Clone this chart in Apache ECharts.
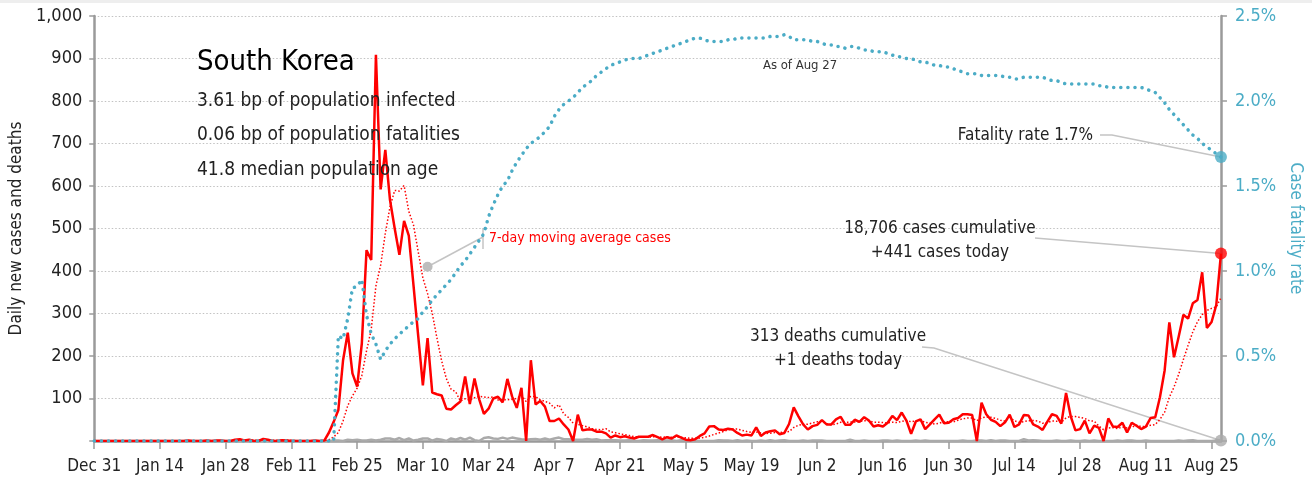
<!DOCTYPE html>
<html>
<head>
<meta charset="utf-8">
<script src="https://cdn.jsdelivr.net/npm/echarts@6/dist/echarts.min.js"></script>
<style>
  html, body { margin: 0; padding: 0; background: #fff; }
  #main { width: 1312px; height: 482px; }
</style>
</head>
<body>
<div id="main"></div>
<script>
  var FONT = "'Liberation Sans Narrow', 'DejaVu Sans Condensed', 'Roboto', sans-serif";

  // one category per day, Dec 31 2019 .. Aug 27 2020
  var monthNames = ['Jan', 'Feb', 'Mar', 'Apr', 'May', 'Jun', 'Jul', 'Aug', 'Sep', 'Oct', 'Nov', 'Dec'];
  var categories = [];
  for (var t = Date.UTC(2019, 11, 31); t <= Date.UTC(2020, 7, 27); t += 86400000) {
    var dt = new Date(t);
    categories.push(monthNames[dt.getUTCMonth()] + ' ' + dt.getUTCDate());
  }

  var tickLabels = ['Dec 31', 'Jan 14', 'Jan 28', 'Feb 11', 'Feb 25', 'Mar 10', 'Mar 24', 'Apr 7', 'Apr 21',
    'May 5', 'May 19', 'Jun 2', 'Jun 16', 'Jun 30', 'Jul 14', 'Jul 28', 'Aug 11', 'Aug 25'];

  // daily new cases
  var cases = [
    0, 0, 0, 0, 0, 0, 0, 0, 0, 0,
    0, 0, 0, 0, 0, 0, 0, 0, 0, 0,
    1, 0, 0, 0, 1, 0, 1, 1, 0, 0,
    3, 4, 1, 3, 0, 0, 5, 3, 0, 0,
    2, 1, 0, 0, 0, 0, 0, 1, 0, 1,
    20, 45, 73, 190, 255, 159, 128, 230, 449, 426,
    909, 592, 685, 567, 500, 438, 518, 483, 367, 248,
    131, 242, 114, 110, 107, 76, 74, 84, 93, 152,
    87, 147, 98, 64, 76, 100, 104, 91, 146, 105,
    78, 125, 0, 190, 86, 94, 81, 47, 47, 53,
    39, 27, 0, 62, 25, 27, 27, 22, 22, 18,
    8, 13, 9, 11, 8, 6, 10, 10, 10, 14,
    9, 4, 9, 6, 13, 8, 3, 2, 4, 12,
    18, 34, 35, 27, 26, 29, 27, 19, 13, 15,
    13, 32, 12, 20, 23, 25, 16, 19, 40, 79,
    58, 39, 27, 35, 38, 49, 39, 39, 51, 57,
    38, 38, 50, 45, 56, 48, 34, 37, 34, 43,
    59, 49, 67, 48, 17, 46, 51, 28, 39, 51,
    62, 42, 43, 51, 54, 63, 63, 61, 0, 90,
    63, 50, 45, 35, 44, 62, 33, 39, 61, 60,
    39, 34, 26, 45, 63, 59, 41, 113, 58, 25,
    28, 48, 18, 36, 31, 0, 53, 34, 33, 43,
    20, 43, 36, 28, 34, 54, 56, 103, 166, 279,
    197, 246, 297, 288, 324, 332, 397, 266, 280, 320,
    441
  ];

  // 7-day moving average of cases
  var casesAvg = [
    0, 0, 0, 0, 0, 0, 0, 0, 0, 0,
    0, 0, 0, 0, 0, 0, 0, 0, 0, 0,
    0.1, 0.1, 0.1, 0.1, 0.3, 0.3, 0.4, 0.4, 0.4, 0.4,
    0.9, 1.3, 1.4, 1.7, 1.6, 1.6, 2.3, 2.3, 1.7, 1.6,
    1.4, 1.6, 1.6, 0.9, 0.4, 0.4, 0.4, 0.3, 0.1, 0.3,
    3.1, 9.6, 20, 47.1, 83.4, 106.1, 124.3, 154.3, 212, 262.4,
    365.1, 413.3, 488.4, 551.1, 589.7, 588.1, 601.3, 540.4, 508.3, 445.9,
    383.6, 346.7, 300.4, 242.1, 188.4, 146.9, 122, 115.3, 94, 99.4,
    96.1, 101.9, 105, 103.6, 102.4, 103.4, 96.6, 97.1, 97, 98,
    100, 107, 92.7, 105, 104.3, 96.9, 93.4, 89, 77.9, 85.4,
    63.9, 55.4, 42, 39.3, 36.1, 33.3, 29.6, 27.1, 26.4, 29,
    21.3, 19.6, 17, 14.7, 12.7, 10.4, 9.3, 9.6, 9.1, 9.9,
    9.6, 9, 9.4, 8.9, 9.3, 9, 7.4, 6.4, 6.4, 6.9,
    8.6, 11.6, 15.4, 18.9, 22.3, 25.9, 28, 28.1, 25.1, 22.3,
    20.3, 21.1, 18.7, 17.7, 18.3, 20, 20.1, 21, 22.1, 31.7,
    37.1, 39.4, 39.7, 42.4, 45.1, 46.4, 40.7, 38, 39.7, 44,
    44.4, 44.4, 44.6, 45.4, 47.9, 47.4, 44.1, 44, 43.4, 42.4,
    44.4, 43.4, 46.1, 48.1, 45.3, 47, 48.1, 43.7, 42.3, 40,
    42, 45.6, 45.1, 45.1, 48.9, 52.3, 54, 53.9, 47.9, 54.6,
    56.3, 55.7, 53.1, 49.1, 46.7, 55.6, 47.4, 44, 45.6, 47.7,
    48.3, 46.9, 41.7, 43.4, 46.9, 46.6, 43.9, 54.4, 57.9, 57.7,
    55.3, 53.1, 47.3, 46.6, 34.9, 26.6, 30.6, 31.4, 29.3, 32.9,
    30.6, 32.3, 37.4, 33.9, 33.9, 36.9, 38.7, 50.6, 68.1, 102.9,
    127, 157.3, 192, 225.1, 256.7, 280.4, 297.3, 307.1, 312, 315.3,
    337.1
  ];

  // daily new deaths
  var deaths = [
    0, 0, 0, 0, 0, 0, 0, 0, 0, 0,
    0, 0, 0, 0, 0, 0, 0, 0, 0, 0,
    0, 0, 0, 0, 0, 0, 0, 0, 0, 0,
    0, 0, 0, 0, 0, 0, 0, 0, 0, 0,
    0, 0, 0, 0, 0, 0, 0, 0, 0, 0,
    0, 1, 1, 0, 3, 2, 3, 1, 1, 3,
    1, 3, 6, 6, 3, 7, 2, 6, 1, 3,
    6, 6, 1, 5, 3, 0, 6, 3, 7, 3,
    8, 2, 0, 7, 9, 6, 5, 8, 5, 8,
    6, 4, 3, 4, 5, 3, 6, 3, 6, 8,
    4, 4, 3, 3, 3, 5, 3, 4, 1, 2,
    2, 2, 1, 1, 2, 0, 0, 2, 1, 1,
    2, 1, 1, 2, 0, 2, 2, 1, 1, 0,
    0, 0, 0, 2, 1, 1, 0, 2, 0, 1,
    0, 0, 1, 0, 2, 0, 1, 2, 0, 0,
    0, 1, 0, 1, 1, 1, 0, 0, 0, 0,
    0, 3, 0, 0, 1, 0, 0, 0, 1, 1,
    0, 1, 0, 0, 0, 1, 0, 1, 0, 0,
    0, 0, 0, 0, 0, 1, 0, 0, 1, 1,
    0, 2, 0, 1, 1, 0, 0, 0, 4, 1,
    2, 1, 0, 0, 0, 1, 0, 0, 1, 0,
    0, 1, 0, 1, 0, 0, 0, 0, 1, 0,
    1, 1, 0, 0, 1, 0, 0, 0, 0, 0,
    0, 1, 0, 1, 2, 0, 0, 0, 0, 1,
    1
  ];

  // case fatality rate, %
  var fatalityRate = [
    0, 0, 0, 0, 0, 0, 0, 0, 0, 0,
    0, 0, 0, 0, 0, 0, 0, 0, 0, 0,
    0, 0, 0, 0, 0, 0, 0, 0, 0, 0,
    0, 0, 0, 0, 0, 0, 0, 0, 0, 0,
    0, 0, 0, 0, 0, 0, 0, 0, 0, 0,
    0, 0, 0.62, 0.60, 0.72, 0.90, 0.91, 0.95, 0.74, 0.63,
    0.57, 0.48, 0.53, 0.57, 0.60, 0.63, 0.65, 0.68, 0.70, 0.72,
    0.76, 0.79, 0.83, 0.86, 0.89, 0.92, 0.95, 0.99, 1.03, 1.06,
    1.10, 1.14, 1.18, 1.22, 1.32, 1.39, 1.45, 1.50, 1.53, 1.59,
    1.64, 1.68, 1.72, 1.75, 1.77, 1.79, 1.82, 1.85, 1.91, 1.95,
    1.98, 2.00, 2.02, 2.05, 2.08, 2.10, 2.12, 2.15, 2.17, 2.19,
    2.21, 2.22, 2.23, 2.24, 2.25, 2.25, 2.25, 2.26, 2.27, 2.28,
    2.29, 2.30, 2.31, 2.32, 2.33, 2.34, 2.35, 2.36, 2.37, 2.37,
    2.36, 2.35, 2.35, 2.35, 2.35, 2.36, 2.36, 2.37, 2.37, 2.37,
    2.37, 2.37, 2.37, 2.37, 2.38, 2.38, 2.38, 2.39, 2.38, 2.36,
    2.36, 2.36, 2.36, 2.35, 2.35, 2.34, 2.33, 2.33, 2.32, 2.32,
    2.31, 2.32, 2.32, 2.31, 2.30, 2.30, 2.29, 2.29, 2.29, 2.28,
    2.27, 2.26, 2.26, 2.25, 2.25, 2.24, 2.23, 2.23, 2.22, 2.21,
    2.21, 2.20, 2.20, 2.19, 2.18, 2.17, 2.16, 2.16, 2.16, 2.15,
    2.15, 2.15, 2.15, 2.15, 2.14, 2.14, 2.13, 2.13, 2.14, 2.14,
    2.14, 2.14, 2.14, 2.13, 2.12, 2.12, 2.11, 2.10, 2.10, 2.10,
    2.10, 2.10, 2.10, 2.10, 2.09, 2.09, 2.08, 2.08, 2.08, 2.08,
    2.08, 2.08, 2.08, 2.08, 2.07, 2.06, 2.05, 2.02, 1.99, 1.95,
    1.92, 1.89, 1.86, 1.83, 1.80, 1.78, 1.75, 1.73, 1.71, 1.69,
    1.67
  ];

  var infoLines = ['3.61 bp of population infected', '0.06 bp of population fatalities', '41.8 median population age'];

  var last = categories.length - 1;
  var RED = '#ff0000', BLUE = '#4bacc6', GRAY = '#aaaaaa', AXIS = '#9a9a9a';

  function showTick(index, value) { return tickLabels.indexOf(value) >= 0; }
  function withCommas(v) { return String(v).replace(/\B(?=(\d{3})+(?!\d))/g, ','); }

  var chart = echarts.init(document.getElementById('main'));
  chart.setOption({
    animation: false,
    textStyle: { fontFamily: FONT },
    grid: { left: 92, right: 90, top: 16, bottom: 41 },
    xAxis: {
      type: 'category',
      data: categories,
      boundaryGap: false,
      axisLine: { lineStyle: { color: AXIS, width: 2.5 } },
      axisTick: { interval: showTick, length: 8, lineStyle: { color: AXIS, width: 1.5 } },
      axisLabel: { interval: showTick, fontSize: 17, color: '#222', margin: 17, fontFamily: FONT },
      splitLine: { show: false }
    },
    yAxis: [{
      type: 'value',
      min: 0,
      max: 1000,
      interval: 100,
      name: 'Daily new cases and deaths',
      nameLocation: 'middle',
      nameGap: 68,
      nameTextStyle: { fontSize: 17, color: '#222', fontFamily: FONT },
      axisLine: { show: true, lineStyle: { color: AXIS, width: 2.5 } },
      axisTick: { show: true, length: 5, lineStyle: { color: AXIS, width: 1.5 } },
      axisLabel: {
        fontSize: 18, color: '#222', margin: 12, fontFamily: FONT,
        formatter: function (v) { return v === 0 ? '' : withCommas(v); }
      },
      splitLine: { lineStyle: { color: '#c2c2c2', type: [1.5, 2], width: 1 } }
    }, {
      type: 'value',
      min: 0,
      max: 2.5,
      interval: 0.5,
      position: 'right',
      name: 'Case fatality rate',
      nameLocation: 'middle',
      nameRotate: -90,
      nameGap: 66,
      nameTextStyle: { fontSize: 17, color: BLUE, fontFamily: FONT },
      axisLine: { show: true, lineStyle: { color: AXIS, width: 2.5 } },
      axisTick: { show: true, length: 6, lineStyle: { color: AXIS, width: 1.5 } },
      axisLabel: {
        fontSize: 18, color: BLUE, margin: 14, fontFamily: FONT,
        formatter: function (v) { return v.toFixed(1) + '%'; }
      },
      splitLine: { show: false }
    }],
    series: [{
      name: 'Deaths',
      type: 'line',
      data: deaths,
      showSymbol: false,
      lineStyle: { color: GRAY, width: 2.5 },
      z: 2
    }, {
      name: '7-day moving average cases',
      type: 'line',
      data: casesAvg,
      showSymbol: false,
      lineStyle: { color: RED, width: 1.5, type: [1.5, 2] },
      z: 3
    }, {
      name: 'Cases',
      type: 'line',
      data: cases,
      showSymbol: false,
      lineStyle: { color: RED, width: 2.5 },
      z: 4
    }, {
      name: 'Fatality rate',
      type: 'line',
      yAxisIndex: 1,
      data: fatalityRate,
      showSymbol: false,
      lineStyle: { color: BLUE, width: 3.5, type: [0.1, 7], cap: 'round' },
      z: 5
    }, {
      type: 'scatter',
      data: [[categories[last], cases[last]]],
      symbolSize: 12,
      itemStyle: { color: RED },
      z: 6
    }, {
      type: 'scatter',
      data: [[categories[last], deaths[last]]],
      symbolSize: 12,
      itemStyle: { color: GRAY },
      z: 6
    }, {
      type: 'scatter',
      yAxisIndex: 1,
      data: [[categories[last], fatalityRate[last]]],
      symbolSize: 12,
      itemStyle: { color: BLUE },
      z: 6
    }]
  });

  // leader lines end at the data points
  var pCases = chart.convertToPixel({ xAxisIndex: 0, yAxisIndex: 0 }, [last, cases[last]]);
  var pDeaths = chart.convertToPixel({ xAxisIndex: 0, yAxisIndex: 0 }, [last, deaths[last]]);
  var pRate = chart.convertToPixel({ xAxisIndex: 0, yAxisIndex: 1 }, [last, fatalityRate[last]]);
  var pAvg = chart.convertToPixel({ xAxisIndex: 0, yAxisIndex: 0 }, [71, 410]);

  var LEAD = { stroke: '#c4c4c4', lineWidth: 1.5 };
  function txt(x, y, s, size, color, align) {
    return { type: 'text', x: x, y: y, z: 10,
      style: { text: s, fontSize: size, fill: color || '#222', fontFamily: FONT,
        align: align || 'left', verticalAlign: 'middle' } };
  }

  var graphics = [
    { type: 'rect', shape: { x: 0, y: 0, width: 1312, height: 3 }, style: { fill: '#eeeeee' } },
    txt(197, 62, 'South Korea', 29, '#000'),
    txt(197, 101, infoLines[0], 19),
    txt(197, 135, infoLines[1], 19),
    txt(197, 170, infoLines[2], 19),
    txt(800, 66, 'As of ' + categories[last], 13, '#333', 'center'),
    txt(1093, 136, 'Fatality rate ' + fatalityRate[last].toFixed(1) + '%', 17, '#222', 'right'),
    txt(940, 229, withCommas(18706) + ' cases cumulative', 17, '#222', 'center'),
    txt(940, 253, '+' + cases[last] + ' cases today', 17, '#222', 'center'),
    txt(838, 337, '313 deaths cumulative', 17, '#222', 'center'),
    txt(838, 361, '+' + deaths[last] + ' deaths today', 17, '#222', 'center'),
    txt(489, 238, '7-day moving average cases', 14, RED),
    { type: 'polyline', z: 1, shape: { points: [[1100, 135], [1112, 135], pRate] }, style: LEAD },
    { type: 'polyline', z: 1, shape: { points: [[1035, 238], pCases] }, style: LEAD },
    { type: 'polyline', z: 1, shape: { points: [[922, 347], [934, 348], pDeaths] }, style: LEAD },
    { type: 'line', z: 1, shape: { x1: 483, y1: 228, x2: 483, y2: 249 }, style: LEAD },
    { type: 'line', z: 1, shape: { x1: 483, y1: 237, x2: pAvg[0], y2: pAvg[1] }, style: LEAD },
    { type: 'circle', z: 7, shape: { cx: pAvg[0], cy: pAvg[1], r: 5 }, style: { fill: '#bdbdbd' } }
  ];
  chart.setOption({ graphic: graphics });
</script>
</body>
</html>
